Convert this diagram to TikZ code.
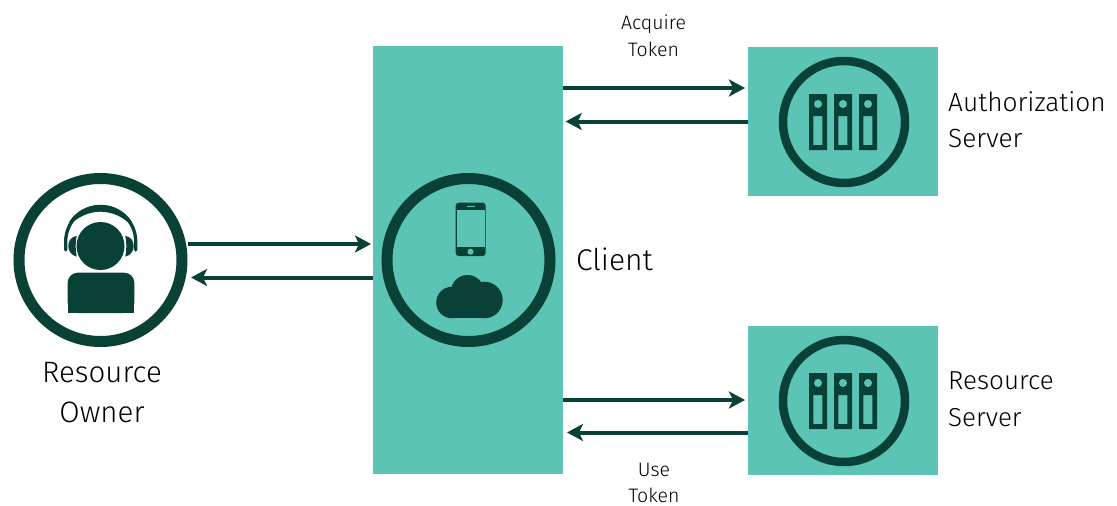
\documentclass[tikz,border=0pt]{standalone}
\usepackage{fontspec}
\setmainfont{Fira Sans Light}
\usetikzlibrary{arrows.meta}
\definecolor{teal1}{HTML}{5BC4B5}
\definecolor{dark1}{HTML}{0A4136}
\tikzset{
  box/.style={fill=teal1,draw=none,inner sep=0,outer sep=0},
  ring/.style={circle,draw=dark1,inner sep=0,outer sep=0},
  arr/.style={draw=dark1,line width=4,-{Stealth[length=16,width=17,inset=4]}},
  lab/.style={text=black,inner sep=0,align=center,anchor=base},
  labl/.style={text=black,inner sep=0,anchor=base west},
}
\newcommand{\srvicon}[2]{%
  \foreach \dx in {-35,-10,15}{%
    \fill[dark1,even odd rule] (#1+\dx,#2-28) rectangle ++(18,56)
      (#1+\dx+4.3,#2-6) rectangle ++(9,29);
    \fill[teal1] (#1+\dx+9,#2-18) circle (4);
  }%
}
\begin{document}
\begin{tikzpicture}[x=1pt,y=-1pt]
\useasboundingbox (0,0) rectangle (1117,506);
\node[box,minimum width=190,minimum height=428] (client) at (468,260) {};
\node[box,minimum width=190,minimum height=149] (auth) at (843,121.5) {};
\node[box,minimum width=190,minimum height=149] (res) at (843,400.5) {};
\node[ring,line width=11,minimum size=163,fill=white] (owner) at (100.5,260) {};
\node[ring,line width=11,minimum size=163] (cring) at (468.5,260) {};
\node[ring,line width=8.5,minimum size=122] (aring) at (844,122) {};
\node[ring,line width=8.5,minimum size=122] (rring) at (844,401) {};
% server icons
\srvicon{844}{122}
\srvicon{844}{401}
% phone
\fill[dark1,rounded corners=3] (455.7,202.7) rectangle (485.7,256);
\fill[teal1] (457.2,210) rectangle (484.5,247.3);
\fill[teal1] (470.5,251.7) circle (3);
\fill[teal1] (466.7,205.6) rectangle (475,206.8);
% cloud
\fill[dark1] (452,302.5) circle (15.8);
\fill[dark1] (467.5,291.5) circle (16.5);
\fill[dark1] (484.4,300) circle (18.3);
\fill[dark1] (452,295) rectangle (484.4,318.3);
% person
\fill[dark1] (100.5,246) circle (24);
\fill[dark1,rounded corners=10] (67.7,313) -- (67.7,272.7) -- (134.3,272.7) -- (134.3,313) -- cycle;
\fill[dark1] (67.7,305) rectangle (134.3,313);
% headband
\draw[dark1,line width=3.3,line cap=round] (65.7,250) -- (65.7,241.5) arc[start angle=180,end angle=0,x radius=35,y radius=-35] -- (135.7,250);
\fill[dark1] (69.3,226) -- (69.3,221.7) .. controls (76,211) and (88,205) .. (100.5,205) .. controls (113,205) and (125,211) .. (131.7,221.7) -- (131.7,226) .. controls (124,217) and (112,211.7) .. (100.5,211.7) .. controls (89,211.7) and (77,217) .. cycle;
% ear cups
\fill[dark1] (76.7,235.8) .. controls (71,237) and (68.3,241) .. (68.3,246) .. controls (68.3,251) and (71,255) .. (76.7,256.7) .. controls (75.3,250) and (75.3,242) .. cycle;
\fill[dark1] (125.3,235.8) .. controls (131,237) and (133.7,241) .. (133.7,246) .. controls (133.7,251) and (131,255) .. (125.3,256.7) .. controls (126.7,250) and (126.7,242) .. cycle;
% connectors
\draw[arr,shorten <=6,shorten >=2] (owner.east |- 0,244) -- (client.west |- 0,244);
\draw[arr,shorten >=9] (client.west |- 0,277.5) -- (owner.east |- 0,277.5);
\draw[arr,shorten >=3] (client.east |- 0,88) -- (auth.west |- 0,88);
\draw[arr,shorten >=2.7] (auth.west |- 0,121.5) -- (client.east |- 0,121.5);
\draw[arr,shorten >=3] (client.east |- 0,400) -- (res.west |- 0,400);
\draw[arr,shorten >=4] (res.west |- 0,432.5) -- (client.east |- 0,432.5);
% labels
\node[lab,font=\fontsize{29.5}{40}\selectfont] (t1) at (102,382) {Resource};
\node[lab,font=\fontsize{29.5}{40}\selectfont] (t2) at (102,422) {Owner};
\node[labl,font=\fontsize{30}{40}\selectfont] (t3) at (576,270) {Client};
\node[labl,font=\fontsize{26.3}{36}\selectfont] (t4) at (948,111) {Authorization};
\node[labl,font=\fontsize{26.3}{36}\selectfont] (t5) at (948,147) {Server};
\node[labl,font=\fontsize{26}{36}\selectfont] (t6) at (948,389.5) {Resource};
\node[labl,font=\fontsize{26}{36}\selectfont] (t7) at (948,426.5) {Server};
\node[lab,font=\fontsize{19.5}{27}\selectfont] (t8) at (653.5,29) {Acquire};
\node[lab,font=\fontsize{19.5}{27}\selectfont] (t9) at (653.5,56) {Token};
\node[lab,font=\fontsize{19.5}{27}\selectfont] (t10) at (654,476) {Use};
\node[lab,font=\fontsize{19.5}{27}\selectfont] (t11) at (654,502) {Token};
\end{tikzpicture}
\end{document}
